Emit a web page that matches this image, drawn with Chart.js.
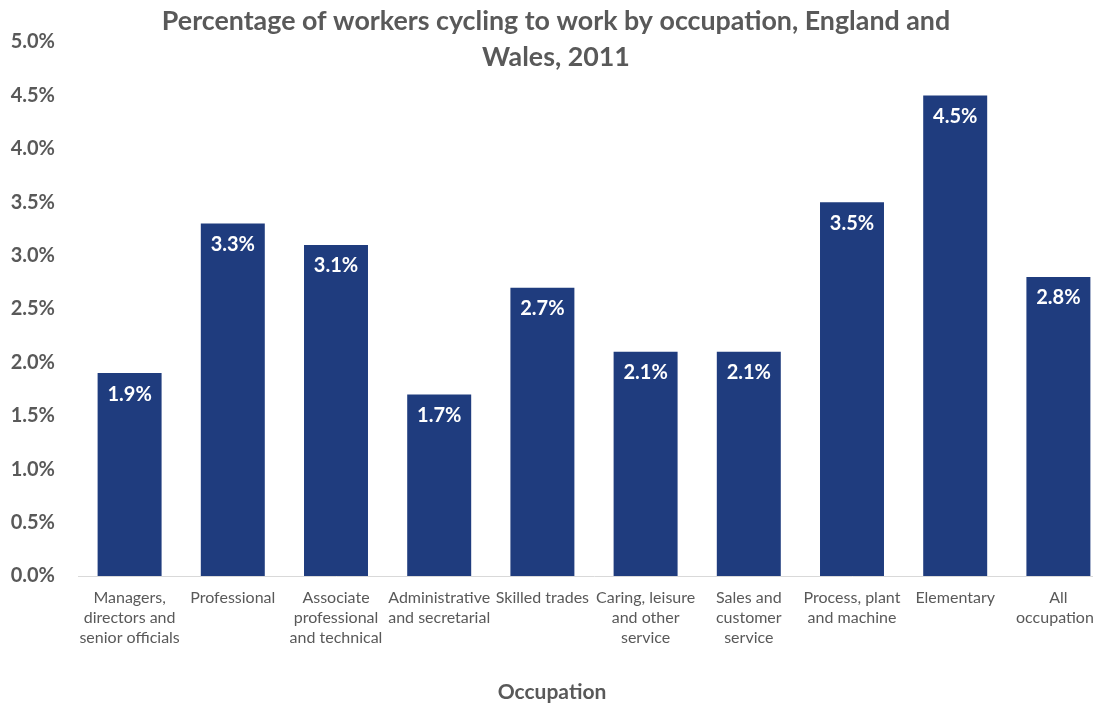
<!DOCTYPE html>
<html>
<head>
<meta charset="utf-8">
<script src="https://cdn.jsdelivr.net/npm/chart.js@4/dist/chart.umd.min.js"></script>
<style>
  html, body { margin: 0; padding: 0; background: #fff; overflow: hidden; }
  #wrap { width: 1110px; height: 705px; }
</style>
</head>
<body>
<div id="wrap"><canvas id="chart" width="1110" height="705"></canvas></div>
<script>
const occupations = [
    ['Managers,', 'directors and', 'senior officials'],
    ['Professional'],
    ['Associate', 'professional', 'and technical'],
    ['Administrative', 'and secretarial'],
    ['Skilled trades'],
    ['Caring, leisure', 'and other', 'service'],
    ['Sales and', 'customer', 'service'],
    ['Process, plant', 'and machine'],
    ['Elementary'],
    ['All', 'occupations']
];
const cyclingPct = [1.9, 3.3, 3.1, 1.7, 2.7, 2.1, 2.1, 3.5, 4.5, 2.8];
const titleLines = ['Percentage of workers cycling to work by occupation, England and', 'Wales, 2011'];
const xTitle = 'Occupation';

const grey = '#595959';
const navy = '#1f3c7e';
const fontName = 'Lato, "Open Sans", sans-serif';

// chart title and axis title, placed where the original has them
const titleOverlay = {
    id: 'titleOverlay',
    afterDraw(chart) {
        const ctx = chart.ctx;
        ctx.save();
        ctx.fillStyle = grey;
        ctx.textAlign = 'center';
        ctx.textBaseline = 'middle';
        ctx.font = 'bold 26.8px ' + fontName;
        titleLines.forEach((line, i) => ctx.fillText(line, 556, 21 + i * 36));
        ctx.font = 'bold 21px ' + fontName;
        ctx.fillText(xTitle, 552, 692);
        ctx.restore();
    }
};

// white value labels inside the top of each bar
const barLabels = {
    id: 'barLabels',
    afterDatasetsDraw(chart) {
        const ctx = chart.ctx;
        const meta = chart.getDatasetMeta(0);
        ctx.save();
        ctx.fillStyle = '#ffffff';
        ctx.font = 'bold 20px ' + fontName;
        ctx.textAlign = 'center';
        ctx.textBaseline = 'middle';
        meta.data.forEach((bar, i) => {
            ctx.fillText(cyclingPct[i].toFixed(1) + '%', bar.x, bar.y + 21);
        });
        ctx.restore();
    }
};

new Chart(document.getElementById('chart'), {
    type: 'bar',
    data: {
        labels: occupations,
        datasets: [{
            data: cyclingPct,
            backgroundColor: navy,
            barPercentage: 0.62,
            categoryPercentage: 1.0
        }]
    },
    options: {
        responsive: false,
        animation: false,
        layout: { padding: { top: 42, left: 0, right: 0, bottom: 0 } },
        plugins: {
            legend: { display: false },
            title: { display: false },
            tooltip: { enabled: false }
        },
        scales: {
            y: {
                min: 0,
                max: 5,
                grid: { display: false },
                border: { display: false },
                afterFit(scale) { scale.width = 78; },
                ticks: {
                    stepSize: 0.5,
                    padding: 15,
                    color: grey,
                    font: { family: fontName, size: 20, weight: 'bold' },
                    callback: v => v.toFixed(1) + '%'
                }
            },
            x: {
                grid: { display: false },
                border: { display: true, color: '#d9d9d9', width: 1 },
                afterFit(scale) { scale.height = 129; },
                ticks: {
                    maxRotation: 0,
                    autoSkip: false,
                    padding: 4,
                    color: grey,
                    font: { family: fontName, size: 16, lineHeight: 1.25 }
                }
            }
        }
    },
    plugins: [titleOverlay, barLabels]
});
</script>
</body>
</html>
